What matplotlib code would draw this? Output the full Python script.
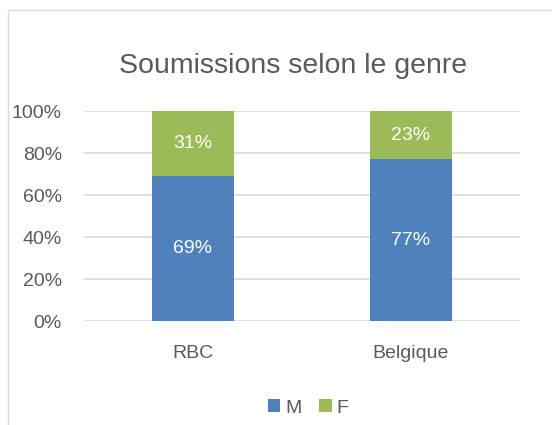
import matplotlib
matplotlib.use("Agg")
import matplotlib.pyplot as plt
from matplotlib import font_manager as fm
import numpy as np

categories = ["RBC", "Belgique"]
m_vals = [69, 77]
f_vals = [31, 23]
series_names = ["M", "F"]
yticks = [0, 20, 40, 60, 80, 100]

names = {f.name for f in fm.fontManager.ttflist}
fam = "Liberation Sans Narrow" if "Liberation Sans Narrow" in names else "Liberation Sans"
plt.rcParams['font.family'] = [fam, 'DejaVu Sans']

gray = "#595959"
blue = "#4F81BD"
green = "#9BBB59"

fig = plt.figure(figsize=(5.52, 4.25), dpi=100)
frame = plt.Rectangle((8/552, -0.1), 1.2, 1 - 10/425 + 0.1, transform=fig.transFigure,
                      fill=False, edgecolor="#D9D9D9", linewidth=1.0)
fig.patches.append(frame)

ax = fig.add_axes([84/552, 1 - 321/425, (520-84)/552, (321-111)/425])
x = np.arange(len(categories))
w = 0.376
b1 = ax.bar(x, m_vals, w, color=blue, label=series_names[0], zorder=3)
b2 = ax.bar(x, f_vals, w, bottom=m_vals, color=green, label=series_names[1], zorder=3)
for i in range(len(categories)):
    ax.text(x[i], m_vals[i] / 2, f"{m_vals[i]}%", ha="center", va="center",
            color="white", fontsize=14)
    ax.text(x[i], m_vals[i] + f_vals[i] / 2, f"{f_vals[i]}%", ha="center", va="center",
            color="white", fontsize=14)

ax.set_xlim(-0.5, len(categories) - 0.5)
ax.set_ylim(0, 100)
ax.set_yticks(yticks)
ax.set_yticklabels([f"{t}%" for t in yticks], color=gray, fontsize=14)
ax.set_xticks(x)
ax.set_xticklabels(categories, color=gray, fontsize=14)
ax.tick_params(axis="both", length=0)
ax.tick_params(axis="y", pad=16)
ax.tick_params(axis="x", pad=17)
for s in ax.spines.values():
    s.set_visible(False)
ax.yaxis.grid(True, color="#D9D9D9", linewidth=1.2, zorder=0)
ax.set_axisbelow(True)

fig.text(293/552, 1 - 66/425, "Soumissions selon le genre", ha="center", va="center",
         color=gray, fontsize=20.5)

leg = fig.legend(handles=[b1, b2], labels=series_names, loc="center",
                 bbox_to_anchor=(308/552, 1 - 408/425), ncol=2, frameon=False,
                 fontsize=14, handlelength=0.65, handleheight=0.65, columnspacing=0.9,
                 handletextpad=0.25)
for t in leg.get_texts():
    t.set_color(gray)

fig.savefig("out.png", dpi=100)
